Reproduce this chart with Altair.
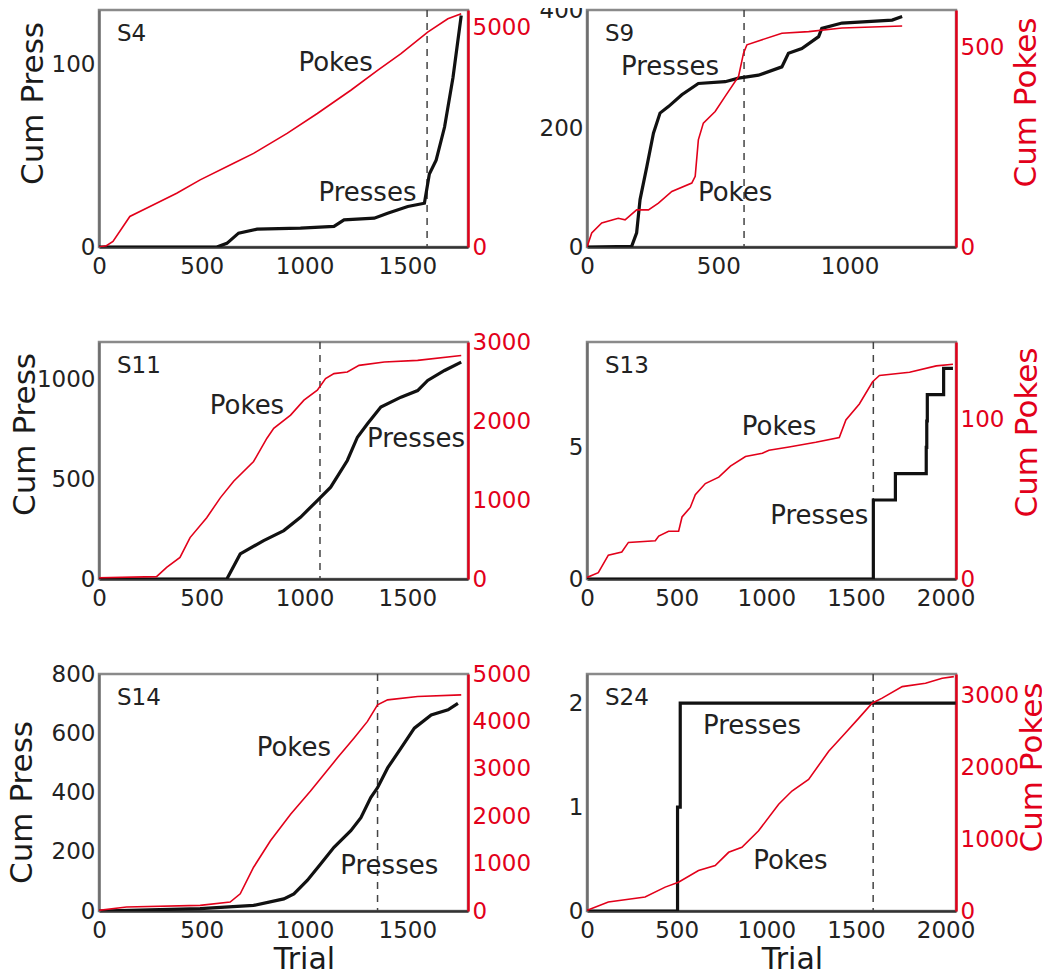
import altair as alt
import pandas as pd

RED = "#e2001a"
DARK = "#1a1a1a"
FONT = "DejaVu Sans"

# ---------------- data ----------------
# S4
s4_press_trial = [0, 573, 622, 679, 769, 980, 1143, 1192, 1339, 1404, 1502, 1583, 1607, 1640, 1681, 1722, 1762]
s4_press_cum = [0, 0, 2, 7.6, 9.8, 10.4, 11.3, 14.9, 15.8, 18.5, 22.2, 24, 40, 47.6, 65.8, 93, 127]
s4_poke_trial = [0, 36, 68, 150, 248, 378, 492, 655, 752, 915, 1062, 1225, 1355, 1469, 1599, 1697, 1762]
s4_poke_cum = [0, 30, 128, 695, 921, 1224, 1526, 1903, 2130, 2583, 3036, 3565, 4018, 4396, 4887, 5189, 5302]
# S9
s9_press_trial = [0, 170, 189, 202, 228, 253, 278, 310, 361, 424, 526, 577, 653, 742, 767, 818, 882, 894, 971, 1162, 1200]
s9_press_cum = [0, 1, 24, 80, 136, 192, 226, 237, 257, 276, 279, 285, 290, 304, 327, 335, 355, 369, 378, 383, 389]
s9_poke_trial = [0, 18, 56, 119, 145, 189, 234, 272, 323, 399, 412, 424, 443, 488, 526, 577, 596, 609, 742, 844, 971, 1200]
s9_poke_cum = [0, 35, 60, 72, 68, 93, 93, 110, 139, 160, 177, 268, 310, 339, 377, 427, 485, 506, 535, 539, 548, 553]
# S11
s11_press_trial = [0, 622, 687, 801, 899, 980, 1062, 1127, 1208, 1257, 1306, 1371, 1469, 1550, 1599, 1681, 1762]
s11_press_cum = [0, 0, 126, 193, 243, 310, 394, 461, 595, 712, 779, 863, 913, 946, 997, 1047, 1089]
s11_poke_trial = [0, 280, 329, 394, 443, 524, 590, 655, 752, 817, 850, 932, 997, 1062, 1102, 1143, 1208, 1265, 1388, 1550, 1762]
s11_poke_cum = [15, 30, 147, 273, 524, 776, 1027, 1237, 1488, 1782, 1908, 2075, 2264, 2390, 2537, 2600, 2621, 2704, 2746, 2767, 2830]
# S13
s13_press_trial = [0, 1597, 1720, 1892, 1895, 1898, 1989, 2041]
s13_press_cum = [0, 3, 4, 5, 6, 7, 8, 8]
s13_poke_trial = [0, 63, 119, 194, 231, 381, 400, 455, 511, 530, 576, 604, 660, 735, 800, 884, 978, 1015, 1127, 1276, 1407, 1444, 1519, 1593, 1631, 1799, 1948, 2041]
s13_poke_cum = [1, 4, 15, 17, 23, 24, 27, 30, 30, 39, 45, 53, 60, 64, 71, 77, 79, 81, 83, 86, 89, 100, 110, 124, 128, 130, 134, 135]
# S14
s14_press_trial = [0, 492, 752, 899, 948, 1013, 1078, 1143, 1225, 1274, 1322, 1355, 1404, 1469, 1534, 1616, 1698, 1746]
s14_press_cum = [0, 8, 19, 41, 58, 103, 159, 215, 271, 315, 383, 416, 483, 550, 617, 662, 679, 701]
s14_poke_trial = [0, 134, 492, 638, 687, 752, 834, 932, 1029, 1160, 1241, 1306, 1355, 1404, 1550, 1762]
s14_poke_cum = [14, 84, 119, 189, 364, 923, 1483, 2042, 2531, 3231, 3650, 4000, 4350, 4455, 4524, 4559]
# S24
s24_press_trial = [0, 505, 520, 2056]
s24_press_cum = [0, 1, 2, 2]
s24_poke_trial = [0, 119, 324, 436, 510, 622, 715, 790, 864, 957, 1069, 1143, 1236, 1348, 1441, 1516, 1590, 1646, 1758, 1888, 1981, 2046]
s24_poke_cum = [9, 124, 194, 332, 401, 562, 631, 816, 885, 1115, 1484, 1668, 1829, 2221, 2475, 2682, 2889, 2959, 3120, 3166, 3235, 3258]

panels = [
    dict(name="S4", pt=s4_press_trial, pc=s4_press_cum, kt=s4_poke_trial, kc=s4_poke_cum,
         xmax=1795, xticks=[0, 500, 1000, 1500], lmax=130, lticks=[0, 100], rmax=5390, rticks=[0, 5000],
         dash=1596, lab=[("Pokes", 1151, 101), ("Presses", 1306, 29.5)], step=False,
         col=0, bottom=False, tx=-57, ty=93),
    dict(name="S9", pt=s9_press_trial, pc=s9_press_cum, kt=s9_poke_trial, kc=s9_poke_cum,
         xmax=1405, xticks=[0, 500, 1000], lmax=400, lticks=[0, 200, 400], rmax=593, rticks=[0, 500],
         dash=598, lab=[("Presses", 316, 304), ("Pokes", 564, 91)], step=False,
         col=1, bottom=False, tx=79, ty=92),
    dict(name="S11", pt=s11_press_trial, pc=s11_press_cum, kt=s11_poke_trial, kc=s11_poke_cum,
         xmax=1795, xticks=[0, 500, 1000, 1500], lmax=1190, lticks=[0, 500, 1000], rmax=3000, rticks=[0, 1000, 2000, 3000],
         dash=1075, lab=[("Pokes", 720, 871), ("Presses", 1542, 704)], step=False,
         col=0, bottom=False, tx=-65, ty=92),
    dict(name="S13", pt=s13_press_trial, pc=s13_press_cum, kt=s13_poke_trial, kc=s13_poke_cum,
         xmax=2058, xticks=[0, 500, 1000, 1500, 2000], lmax=9, lticks=[0, 5], rmax=149, rticks=[0, 100],
         dash=1597, lab=[("Pokes", 1071, 5.76), ("Presses", 1295, 2.39)], step=True,
         col=1, bottom=False, tx=80, ty=90),
    dict(name="S14", pt=s14_press_trial, pc=s14_press_cum, kt=s14_poke_trial, kc=s14_poke_cum,
         xmax=1795, xticks=[0, 500, 1000, 1500], lmax=800, lticks=[0, 200, 400, 600, 800], rmax=5000,
         rticks=[0, 1000, 2000, 3000, 4000, 5000],
         dash=1355, lab=[("Pokes", 948, 550), ("Presses", 1412, 153)], step=False,
         col=0, bottom=True, tx=-68, ty=128),
    dict(name="S24", pt=s24_press_trial, pc=s24_press_cum, kt=s24_poke_trial, kc=s24_poke_cum,
         xmax=2058, xticks=[0, 500, 1000, 1500, 2000], lmax=2.28, lticks=[0, 1, 2], rmax=3295,
         rticks=[0, 1000, 2000, 3000],
         dash=1596, lab=[("Presses", 920, 1.78), ("Pokes", 1134, 0.485)], step=True,
         col=1, bottom=True, tx=85, ty=93),
]

W, H = 369, 237


def make_panel(p):
    if p["bottom"]:
        xaxis = alt.Axis(values=p["xticks"], format="d", title="Trial", labelFlush=False, labelOverlap=False,
                         domainColor="#333333", titleFontSize=30, titleColor=DARK, labelPadding=8,
                         titleX=205, titleY=57, titleBaseline="alphabetic", titleAlign="center")
    else:
        xaxis = alt.Axis(values=p["xticks"], format="d", title=None, labelFlush=False, labelOverlap=False,
                         domainColor="#333333", labelPadding=8)
    xenc = alt.X("trial:Q", scale=alt.Scale(domain=[0, p["xmax"]], nice=False, zero=False), axis=xaxis)

    if p["col"] == 0:
        laxis = alt.Axis(values=p["lticks"], format="d", orient="left", title="Cum Press", titleFontSize=31,
                         titleColor=DARK, titleAngle=270, titleBaseline="alphabetic", titleAlign="center",
                         titleX=p["tx"], titleY=p["ty"], domainColor="#6e6e6e", labelOverlap=False)
        raxis = alt.Axis(values=p["rticks"], format="d", orient="right", title=None, labelColor=RED,
                         domainColor=RED, labelOverlap=False)
    else:
        laxis = alt.Axis(values=p["lticks"], format="d", orient="left", title=None, domainColor="#6e6e6e",
                         labelOverlap=False)
        raxis = alt.Axis(values=p["rticks"], format="d", orient="right", title="Cum Pokes", titleFontSize=31,
                         titleColor=RED, titleAngle=270, titleBaseline="alphabetic", titleAlign="center",
                         titleX=p["tx"], titleY=p["ty"], labelColor=RED, domainColor=RED,
                         labelOverlap=False)

    yl = alt.Y("cum:Q", scale=alt.Scale(domain=[0, p["lmax"]], nice=False, zero=False), axis=laxis)
    yr = alt.Y("cum:Q", scale=alt.Scale(domain=[0, p["rmax"]], nice=False, zero=False), axis=raxis)

    press_df = pd.DataFrame({"trial": p["pt"], "cum": p["pc"]})
    poke_df = pd.DataFrame({"trial": p["kt"], "cum": p["kc"]})
    lab_df = pd.DataFrame({"text": [l[0] for l in p["lab"]],
                           "trial": [l[1] for l in p["lab"]],
                           "cum": [l[2] for l in p["lab"]]})
    dash_df = pd.DataFrame({"trial": [p["dash"]]})
    name_df = pd.DataFrame({"name": [p["name"]]})

    press = alt.Chart(press_df).mark_line(
        color="#111111", strokeWidth=3.2, clip=True,
        interpolate="step-after" if p["step"] else "linear").encode(x=xenc, y=yl)
    rule = alt.Chart(dash_df).mark_rule(color="#444444", strokeWidth=1.5, strokeDash=[7, 6]).encode(x=xenc)
    labels = alt.Chart(lab_df).mark_text(font=FONT, fontSize=26, color="#222222",
                                         align="center", baseline="middle").encode(x=xenc, y=yl, text="text:N")
    tag = alt.Chart(name_df).mark_text(font=FONT, fontSize=23, color="#222222", align="left",
                                       baseline="alphabetic").encode(x=alt.value(18), y=alt.value(31),
                                                                     text="name:N")
    left = alt.layer(rule, press, labels, tag)
    right = alt.Chart(poke_df).mark_line(color=RED, strokeWidth=1.6, clip=True).encode(x=xenc, y=yr)
    return alt.layer(left, right).resolve_scale(y="independent").properties(width=W, height=H)


charts = [make_panel(p) for p in panels]

chart = alt.concat(*charts, columns=2, spacing={"row": 95, "column": 119}, bounds="flush").properties(
    autosize=alt.AutoSizeParams(type="none"),
    padding={"left": 91, "top": 2, "right": 943, "bottom": 960},
).configure_view(
    stroke="#8a8a8a", strokeWidth=2.5
).configure_axis(
    grid=False, ticks=False, labelFont=FONT, labelFontSize=23, labelColor="#222222",
    labelPadding=4, domainWidth=2.5, titleFont=FONT, titleFontWeight="normal",
)

chart.save("out.html", embed_options={"renderer": "svg", "actions": False})
